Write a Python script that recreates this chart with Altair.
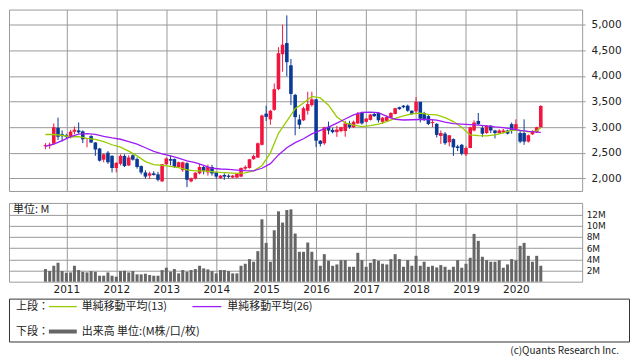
import altair as alt
import pandas as pd

# ---- data (monthly candles, Aug 2010 .. Jul 2020) ----
months = pd.date_range("2010-08-01", periods=120, freq="MS").strftime("%Y-%m-%dT00:00:00").tolist()

opens = [2630, 2640, 2677, 2988, 2863, 2845, 2801, 2913, 2938, 2919,
         2770, 2826, 2702, 2584, 2367, 2503, 2441, 2205, 2286, 2441,
         2255, 2453, 2379, 2242, 2118, 2056, 2100, 2081, 1944, 2280,
         2379, 2379, 2224, 2162, 2298, 1944, 1994, 2100, 2224, 2118,
         2224, 2118, 2006, 2068, 2056, 2019, 2019, 2037, 2193, 2205,
         2377, 2408, 2656, 3264, 3152, 3338, 3741, 4423, 4640, 4206,
         3630, 3152, 3134, 3320, 3431, 3543, 2737, 2687, 3010, 2948,
         2904, 2926, 2926, 3074, 3000, 3074, 3278, 3105, 3142, 3259,
         3278, 3105, 3124, 3185, 3259, 3389, 3420, 3420, 3321, 3309,
         3494, 3278, 3216, 3080, 3065, 2830, 2874, 2706, 2768, 2626,
         2657, 2471, 2595, 2936, 3122, 2985, 2886, 3029, 2936, 2886,
         2895, 2936, 3060, 2967, 2886, 2886, 2719, 2861, 2905, 2998]
highs = [2690, 2700, 3075, 3186, 2938, 2870, 2950, 3012, 3093, 2938,
         2790, 2845, 2708, 2596, 2490, 2534, 2453, 2317, 2472, 2472,
         2453, 2472, 2410, 2255, 2162, 2131, 2143, 2131, 2280, 2410,
         2453, 2391, 2330, 2330, 2317, 2019, 2125, 2286, 2255, 2273,
         2267, 2131, 2068, 2100, 2080, 2070, 2110, 2215, 2255, 2379,
         2470, 2700, 3245, 3419, 3338, 3853, 4560, 5000, 5180, 4330,
         3650, 3245, 3400, 3692, 3692, 3555, 2750, 3010, 3109, 2990,
         3028, 3010, 3124, 3124, 3130, 3296, 3300, 3180, 3260, 3280,
         3296, 3200, 3230, 3290, 3380, 3400, 3430, 3440, 3330, 3586,
         3494, 3300, 3240, 3155, 3080, 2936, 2905, 2843, 2781, 2657,
         2675, 2626, 3010, 3134, 3277, 3029, 3040, 3040, 2950, 2960,
         2967, 2950, 3091, 3153, 2936, 3153, 2860, 2940, 3010, 3430]
lows = [2570, 2580, 2658, 2752, 2720, 2780, 2783, 2863, 2876, 2690,
        2609, 2690, 2441, 2330, 2317, 2286, 2118, 2118, 2255, 2224,
        2242, 2348, 2193, 2081, 2000, 1990, 2056, 1945, 1932, 2261,
        2255, 2205, 2210, 2131, 1832, 1925, 1980, 2081, 2081, 2056,
        2056, 1994, 1994, 1975, 2000, 2005, 2010, 2025, 2162, 2193,
        2365, 2400, 2644, 3121, 3047, 3320, 3720, 4082, 3989, 3431,
        2842, 2966, 3121, 3245, 3400, 2613, 2625, 2656, 2861, 2880,
        2811, 2900, 2815, 2970, 2985, 3060, 3050, 3090, 3130, 3200,
        3093, 3060, 3110, 3170, 3250, 3340, 3370, 3300, 3240, 3260,
        3093, 3120, 3040, 3000, 2800, 2675, 2657, 2626, 2440, 2533,
        2452, 2440, 2590, 2920, 3040, 2812, 2870, 2886, 2781, 2870,
        2880, 2860, 2874, 2936, 2688, 2657, 2700, 2850, 2890, 2990]
closes = [2650, 2660, 3000, 2814, 2826, 2814, 2913, 2950, 2900, 2764,
          2783, 2702, 2565, 2348, 2472, 2317, 2205, 2305, 2441, 2242,
          2410, 2367, 2224, 2118, 2037, 2100, 2068, 1975, 2280, 2391,
          2348, 2224, 2317, 2317, 1975, 2006, 2112, 2224, 2143, 2224,
          2100, 2037, 2056, 2037, 2031, 2056, 2100, 2205, 2224, 2375,
          2439, 2687, 3227, 3202, 3320, 3741, 4442, 4609, 4268, 3648,
          3196, 3047, 3370, 3450, 3543, 2737, 2675, 2997, 2935, 2904,
          2954, 3000, 3074, 3000, 3105, 3259, 3074, 3167, 3247, 3216,
          3136, 3185, 3198, 3278, 3370, 3352, 3389, 3321, 3259, 3494,
          3167, 3154, 3062, 3100, 2850, 2886, 2688, 2843, 2607, 2595,
          2483, 2595, 2998, 3091, 3060, 2874, 3029, 2936, 2886, 2936,
          2936, 2874, 2936, 3060, 2719, 2719, 2843, 2923, 2998, 3413]
volume_m = [2.26, 1.90, 2.85, 3.39, 1.90, 1.60, 1.66, 2.85, 2.08, 1.78,
            1.66, 1.90, 1.78, 1.07, 1.07, 1.66, 1.07, 0.89, 1.90, 1.96,
            1.66, 1.90, 1.31, 1.31, 1.43, 1.19, 1.07, 1.07, 2.08, 2.50,
            1.78, 2.26, 1.49, 2.08, 1.78, 2.08, 2.26, 2.85, 2.38, 2.20,
            1.90, 1.49, 2.08, 2.08, 1.90, 1.49, 1.49, 2.85, 3.21, 4.04,
            3.57, 5.47, 11.17, 6.95, 3.57, 9.21, 12.60, 10.58, 12.83, 12.95,
            8.62, 5.35, 5.35, 7.01, 5.35, 3.86, 2.85, 4.93, 3.74, 2.85,
            3.09, 3.86, 3.86, 2.67, 2.67, 5.17, 3.86, 2.67, 3.39, 4.04,
            3.74, 3.21, 3.09, 4.04, 4.93, 4.04, 2.67, 3.86, 2.85, 4.63,
            2.85, 3.57, 2.67, 2.85, 2.55, 2.97, 2.67, 2.14, 2.67, 3.86,
            2.50, 3.21, 4.28, 8.56, 7.31, 4.46, 3.86, 3.57, 3.57, 3.86,
            2.50, 3.09, 4.04, 3.80, 6.42, 6.95, 4.63, 3.57, 4.63, 2.85]

# moving averages (every 2nd month + last)
ma_index = list(range(0, 120, 2)) + [119]
ma13 = [2858, 2858, 2840, 2814, 2815, 2783, 2764, 2720, 2658, 2610,
        2534, 2441, 2330, 2270, 2255, 2235, 2210, 2170, 2150, 2150,
        2135, 2120, 2110, 2100, 2110, 2150, 2250, 2500, 2880, 3120,
        3360, 3470, 3600, 3570, 3430, 3200, 3085, 3040, 3010, 3030,
        3060, 3110, 3170, 3220, 3260, 3275, 3250, 3240, 3185, 3110,
        2998, 2850, 2835, 2830, 2850, 2890, 2940, 2940, 2910, 2930, 2990]
ma26 = [2627, 2670, 2740, 2815, 2865, 2876, 2860, 2820, 2790, 2765,
        2720, 2670, 2600, 2530, 2480, 2440, 2395, 2345, 2310, 2255,
        2200, 2185, 2178, 2165, 2155, 2150, 2200, 2290, 2460, 2600,
        2700, 2775, 2870, 2940, 3000, 3080, 3160, 3240, 3290, 3295,
        3285, 3210, 3155, 3140, 3145, 3150, 3150, 3140, 3100, 3070,
        3060, 3050, 3040, 3025, 3005, 2990, 2970, 2940, 2920, 2905, 2900]

price_ticks = [2000, 2500, 3000, 3500, 4000, 4500, 5000]
vol_ticks = [2, 4, 6, 8, 10, 12]
years = list(range(2011, 2021))

df = pd.DataFrame({"date": months, "open": opens, "high": highs, "low": lows,
                   "close": closes, "vol": volume_m})
df["dir"] = ["up" if c >= o else "down" for o, c in zip(opens, closes)]
df_ma = pd.DataFrame({"date": [months[i] for i in ma_index], "ma13": ma13, "ma26": ma26})

RED = "#F2163F"
BLUE = "#0A3A96"
GRID = "#9a9a9a"
FONT = "Noto Sans CJK JP"
NUMFONT = "DejaVu Sans"

year_vals = [alt.DateTime(year=y, month=1, date=1) for y in years]
xscale = alt.Scale(domain=[alt.DateTime(year=2009, month=12, date=14),
                           alt.DateTime(year=2021, month=3, date=24)], nice=False)
xaxis_top = alt.Axis(title=None, labels=False, ticks=False, domain=False, grid=True,
                     gridColor=GRID, values=year_vals)
yscale = alt.Scale(domain=[1757, 5293], nice=False, zero=False)
yaxis = alt.Axis(orient="right", title=None, values=price_ticks,
                 labelExpr="format(datum.value, ',')", tickSize=3,
                 tickColor=GRID, labelPadding=6, domain=False, grid=True, gridColor=GRID,
                 labelFont=NUMFONT, labelFontSize=10.5, labelOverlap=False)
color = alt.Color("dir:N", scale=alt.Scale(domain=["up", "down"], range=[RED, BLUE]), legend=None)

base = alt.Chart(df)
X = alt.X("date:T", scale=xscale, axis=xaxis_top, title=None)
wicks = base.mark_rule(strokeWidth=1).encode(
    x=X,
    y=alt.Y("low:Q", scale=yscale, axis=yaxis, title=None),
    y2="high:Q",
    color=color,
)
bodies = base.mark_bar(size=3.6).encode(
    x=X,
    y=alt.Y("open:Q", scale=yscale, axis=yaxis, title=None),
    y2="close:Q",
    color=color,
)
line13 = alt.Chart(df_ma).mark_line(color="#99CC00", strokeWidth=1.3).encode(
    x=X,
    y=alt.Y("ma13:Q", scale=yscale, axis=yaxis, title=None),
)
line26 = alt.Chart(df_ma).mark_line(color="#9F1DF5", strokeWidth=1.3).encode(
    x=X,
    y=alt.Y("ma26:Q", scale=yscale, axis=yaxis, title=None),
)
upper = alt.layer(wicks, bodies, line13, line26).properties(width=575, height=182)

# ---- volume panel ----
vbars = base.mark_bar(size=3, color="#666666").encode(
    x=alt.X("date:T", scale=xscale, title=None,
            axis=alt.Axis(title=None, format="%Y", ticks=False, domain=False, grid=True,
                          gridColor=GRID, labelPadding=3, labelFont=NUMFONT, labelFontSize=10.5,
                          values=year_vals, labelOverlap=False, labelFlush=False)),
    y=alt.Y("vol:Q", scale=alt.Scale(domain=[0, 14.1], nice=False), title=None,
            axis=alt.Axis(orient="right", title=None, values=vol_ticks,
                          labelExpr="datum.value + 'M'", tickSize=0, labelPadding=4,
                          domain=False, grid=True, gridColor=GRID, labelFont=NUMFONT,
                          labelFontSize=9, labelOverlap=False)),
)
unit_txt = alt.Chart(alt.Data(values=[{"a": 1}])).mark_text(
    align="left", baseline="middle", fontSize=11, font=FONT, color="#222"
).encode(x=alt.value(4), y=alt.value(7), text=alt.value("単位: M"))
lower = alt.layer(vbars, unit_txt).properties(width=575, height=79)

# ---- legend box ----
one = alt.Data(values=[{"a": 1}])
def txt(s, x, y, align="left", size=11):
    return alt.Chart(one).mark_text(align=align, baseline="middle", fontSize=size,
                                    font=FONT, color="#222").encode(
        x=alt.value(x), y=alt.value(y), text=alt.value(s))

def seg(x1, x2, y, col, w):
    return alt.Chart(one).mark_rule(color=col, strokeWidth=w).encode(
        x=alt.value(x1), x2=alt.value(x2), y=alt.value(y))

legend = alt.layer(
    txt("上段：", 7, 8),
    seg(40, 68, 8, "#99CC00", 1.3),
    txt("単純移動平均(13)", 73, 8),
    seg(184, 213, 8, "#9F1DF5", 1.3),
    txt("単純移動平均(26)", 219, 8),
    txt("下段：", 7, 33),
    seg(40, 68, 33, "#666666", 4),
    txt("出来高 単位:(M株/口/枚)", 73, 33),
    txt("(c)Quants Research Inc.", 612, 53, align="right", size=10),
).properties(width=622, height=43, view=alt.ViewBackground(stroke="#333333"))

chart = alt.vconcat(
    alt.vconcat(upper, lower, spacing=10),
    legend,
    spacing=2,
).properties(padding=0).configure_view(stroke=GRID).configure_axis(
    labelFont=FONT, labelColor="#222"
)

chart.save("out.html", embed_options={"renderer": "svg", "actions": False})
